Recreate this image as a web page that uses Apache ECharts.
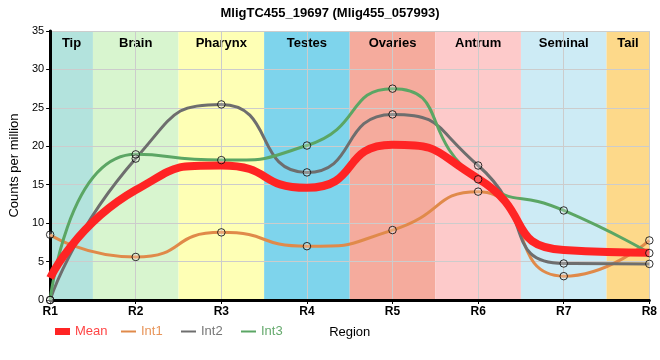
<!DOCTYPE html>
<html>
<head>
<meta charset="utf-8">
<script src="https://cdn.jsdelivr.net/npm/echarts@6/dist/echarts.min.js"></script>
<style>html,body{margin:0;padding:0;background:#fff}#c{width:660px;height:360px}</style>
</head>
<body>
<div id="c"></div>
<script>
var categories = ['R1','R2','R3','R4','R5','R6','R7','R8'];
var regions = ['Tip','Brain','Pharynx','Testes','Ovaries','Antrum','Seminal','Tail'];
var regionColors = ['#b3e3dd','#d8f5cf','#feffb5','#7ed4ec','#f5ab9d','#fdcaca','#cdebf5','#fdd98a'];
var meanValues = [2.85, 14.3, 17.5, 14.6, 20.2, 15.8, 6.5, 6.15];
var int1Values = [8.5, 5.6, 8.8, 7.0, 9.1, 14.1, 3.1, 7.75];
var int2Values = [0, 18.4, 25.45, 16.6, 24.15, 17.5, 4.75, 4.7];
var int3Values = [0, 18.95, 18.2, 20.1, 27.5, 15.7, 11.65, 6.1];
var yTicks = [0, 5, 10, 15, 20, 25, 30, 35];
var legendNames = ['Mean', 'Int1', 'Int2', 'Int3'];

var FONT = 'Liberation Sans, Arial, sans-serif';
function pts(vals){ return vals.map(function(v,i){ return [i, v]; }); }

var bands = regions.map(function(name, i){
  var x0 = Math.max(0, i - 0.5), x1 = Math.min(categories.length - 1, i + 0.5);
  return [{name: name, xAxis: x0, itemStyle: {color: regionColors[i]}}, {xAxis: x1}];
});

var colors = {Mean: '#ff2424', Int1: '#e08a4a', Int2: '#6e6e6e', Int3: '#5ba664'};
var textColors = {Mean: '#ff4545', Int1: '#e8955a', Int2: '#777777', Int3: '#66aa6e'};
var legendLeft = [50, 115, 175, 235];
var SMOOTH = 0.6;

function lineSeries(name, vals, width, z){
  return {
    name: name, type: 'line', data: pts(vals), smooth: SMOOTH, symbol: 'none', z: z,
    lineStyle: {color: colors[name], width: width}, itemStyle: {color: colors[name]},
    emphasis: {disabled: true}, silent: true
  };
}
function dotSeries(name, vals){
  return {
    name: name + '_pts', type: 'scatter', data: pts(vals), symbol: 'circle', symbolSize: 7.5, z: 6,
    itemStyle: {color: 'rgba(255,255,255,0.3)', borderColor: '#000', borderWidth: 1}, silent: true
  };
}

var legends = legendNames.map(function(name, i){
  var item = {name: name, textStyle: {color: textColors[name]}};
  if (name === 'Mean') { item.icon = 'rect'; item.itemStyle = {opacity: 1, color: colors.Mean}; }
  return {
    left: legendLeft[i], top: 320, itemWidth: 15, itemHeight: 7,
    itemStyle: {opacity: 0}, lineStyle: {cap: 'butt'}, selectedMode: false,
    textStyle: {fontFamily: FONT, fontSize: 13},
    data: [item]
  };
});

var chart = echarts.init(document.getElementById('c'), null, {renderer: 'canvas'});
chart.setOption({
  animation: false,
  title: {text: 'MligTC455_19697 (Mlig455_057993)', left: 'center', top: 2,
    textStyle: {fontFamily: FONT, fontSize: 13, fontWeight: 'bold', color: '#000'}},
  grid: {left: 50, right: 9, top: 31, bottom: 60},
  legend: legends,
  xAxis: [{
    type: 'value', min: 0, max: categories.length - 1, interval: 1, z: 3,
    name: 'Region', nameLocation: 'middle', nameGap: 26,
    nameTextStyle: {fontFamily: FONT, fontSize: 13, color: '#000'},
    axisLine: {lineStyle: {color: '#000', width: 3}},
    axisTick: {show: true, length: 4, lineStyle: {color: '#000'}},
    axisLabel: {formatter: function(v){ return categories[v]; }, fontFamily: FONT, fontSize: 12, fontWeight: 'bold', color: '#000', margin: 6},
    splitLine: {show: true, lineStyle: {color: '#cccccc', width: 1}}
  }, {
    type: 'value', position: 'top', min: 0, max: categories.length - 1, z: 3,
    axisLine: {show: true, lineStyle: {color: '#000', width: 2}},
    axisTick: {show: false}, axisLabel: {show: false}, splitLine: {show: false}
  }],
  yAxis: [{
    type: 'value', min: yTicks[0], max: yTicks[yTicks.length - 1], interval: 5, z: 3,
    name: 'Counts per million', nameLocation: 'middle', nameGap: 24,
    nameTextStyle: {fontFamily: FONT, fontSize: 13, color: '#000'},
    axisLine: {show: true, lineStyle: {color: '#000', width: 3}},
    axisTick: {show: true, length: 4, lineStyle: {color: '#000'}},
    axisLabel: {fontFamily: FONT, fontSize: 11, color: '#000', margin: 6},
    splitLine: {show: true, lineStyle: {color: '#cccccc', width: 1}}
  }, {
    type: 'value', position: 'right', min: yTicks[0], max: yTicks[yTicks.length - 1], z: 3,
    axisLine: {show: true, lineStyle: {color: '#000', width: 2}},
    axisTick: {show: false}, axisLabel: {show: false}, splitLine: {show: false}
  }],
  series: [
    {
      name: 'bands', type: 'line', data: [], z: 0, silent: true,
      markArea: {silent: true, z: 1,
        label: {show: true, position: 'insideTop', distance: 6, fontFamily: FONT, fontSize: 13, fontWeight: 'bold', color: '#000'},
        data: bands}
    },
    lineSeries('Int1', int1Values, 3, 4),
    lineSeries('Int2', int2Values, 3, 4),
    lineSeries('Int3', int3Values, 3, 4),
    lineSeries('Mean', meanValues, 8, 5),
    dotSeries('Int1', int1Values),
    dotSeries('Int2', int2Values),
    dotSeries('Int3', int3Values)
  ]
});
</script>
</body>
</html>
